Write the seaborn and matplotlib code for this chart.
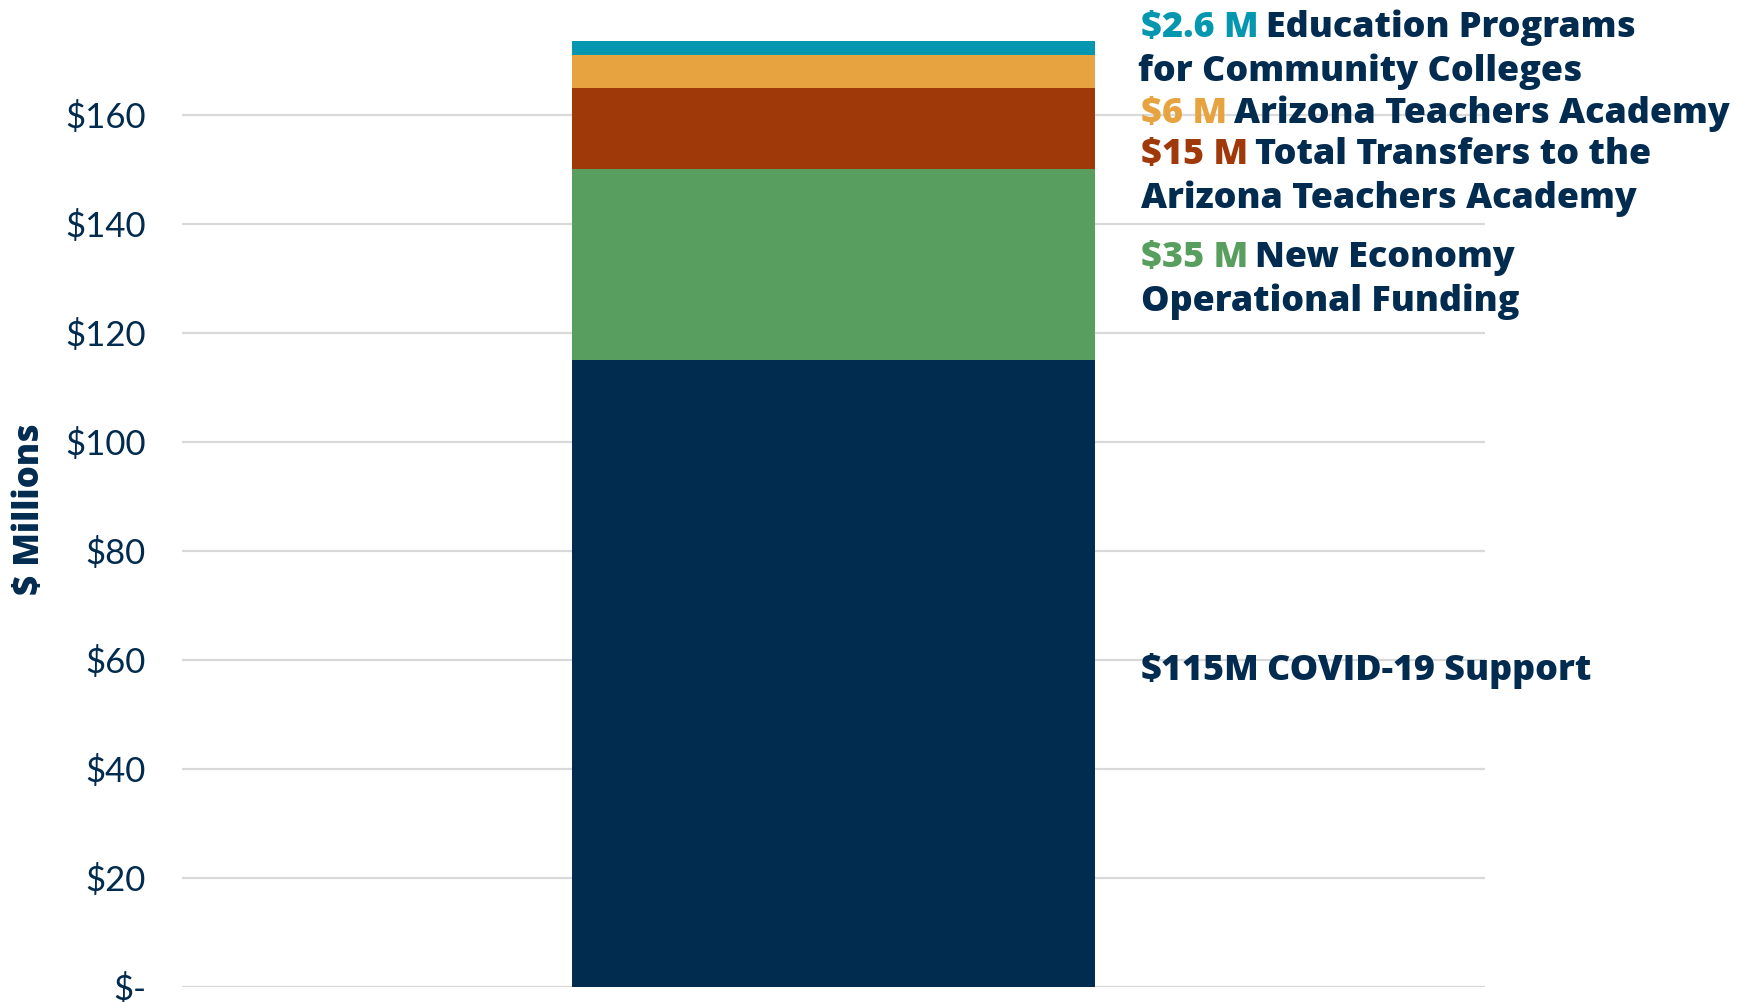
import matplotlib
matplotlib.use("Agg")
import matplotlib.pyplot as plt
import seaborn as sns
import numpy as np
import pandas as pd

# ---- data ----
segments = ["COVID-19 Support", "New Economy Operational Funding",
            "Total Transfers to the Arizona Teachers Academy",
            "Arizona Teachers Academy", "Education Programs for Community Colleges"]
values = [115, 35, 15, 6, 2.6]
colors = ["#022B50", "#589E5E", "#A0390A", "#E7A340", "#0596B0"]
yticks = [0, 20, 40, 60, 80, 100, 120, 140, 160]
ytick_labels = ["$-", "$20", "$40", "$60", "$80", "$100", "$120", "$140", "$160"]
category = ["Total"]

NAVY = "#022B50"

sns.set_theme(style="white")
plt.rcParams['font.family'] = ['Lato', 'DejaVu Sans']

fig = plt.figure(figsize=(17.43, 10.02), dpi=100)
ax = fig.add_axes([182/1743, 15/1002, (1485-182)/1743, 1 - 15/1002 - 33/1002])

cum = np.cumsum(values)
# draw from tallest cumulative to shortest so each segment shows
for i in range(len(values) - 1, -1, -1):
    df = pd.DataFrame({"cat": category, "val": [cum[i]]})
    sns.barplot(data=df, x="cat", y="val", color=colors[i], saturation=1,
                width=0.401, ax=ax, linewidth=0, zorder=3)

ax.set_ylim(0, 175)
ax.set_xlim(-0.5, 0.5)
ax.set_yticks(yticks)
ax.set_yticklabels(ytick_labels)
ax.yaxis.grid(True, color="#D9D9D9", linewidth=1.6, zorder=0)
ax.set_axisbelow(True)
ax.set_xticks([])
ax.set_xlabel("")
ax.set_ylabel("")
for s in ax.spines.values():
    s.set_visible(False)
ax.tick_params(axis="y", length=0, pad=26, labelsize=25, labelcolor=NAVY)

HEAVY = ['Open Sans', 'DejaVu Sans']
fig.text(30/1743, 1 - 509/1002, "$ Millions", rotation=90, ha="center", va="center",
         fontsize=25, fontweight="heavy", color=NAVY, family=HEAVY)

# ---- annotations ----
def fx(px):
    return px / 1743

def fy(py):
    return 1 - py / 1002

FS = 25.8
label_specs = [
    # (prefix, prefix color index, rest lines, baseline y px of first line)
    ("$2.6 M", 4, ["Education Programs", "for Community Colleges"], 37),
    ("$6 M", 3, ["Arizona Teachers Academy"], 123),
    ("$15 M", 2, ["Total Transfers to the", "Arizona Teachers Academy"], 164),
    ("$35 M", 1, ["New Economy", "Operational Funding"], 267),
    ("$115M", 0, ["COVID-19 Support"], 680),
]
x0 = 1141
line_h = 44
for prefix, ci, lines, by in label_specs:
    t = fig.text(fx(x0), fy(by), prefix, color=colors[ci], fontsize=FS,
                 fontweight="heavy", ha="left", va="baseline", family=HEAVY)
    ax.annotate(lines[0], xy=(1, 0), xycoords=t, xytext=(5, 0),
                textcoords="offset points", color=NAVY, fontsize=FS,
                fontweight="heavy", ha="left", va="bottom", annotation_clip=False,
                family=HEAVY)
    for k, ln in enumerate(lines[1:], start=1):
        fig.text(fx(x0 - 3 if ci == 4 else x0), fy(by + k * line_h), ln, color=NAVY,
                 fontsize=FS, fontweight="heavy", ha="left", va="baseline",
                 family=HEAVY)

fig.savefig("out.png", dpi=100, facecolor="white")
